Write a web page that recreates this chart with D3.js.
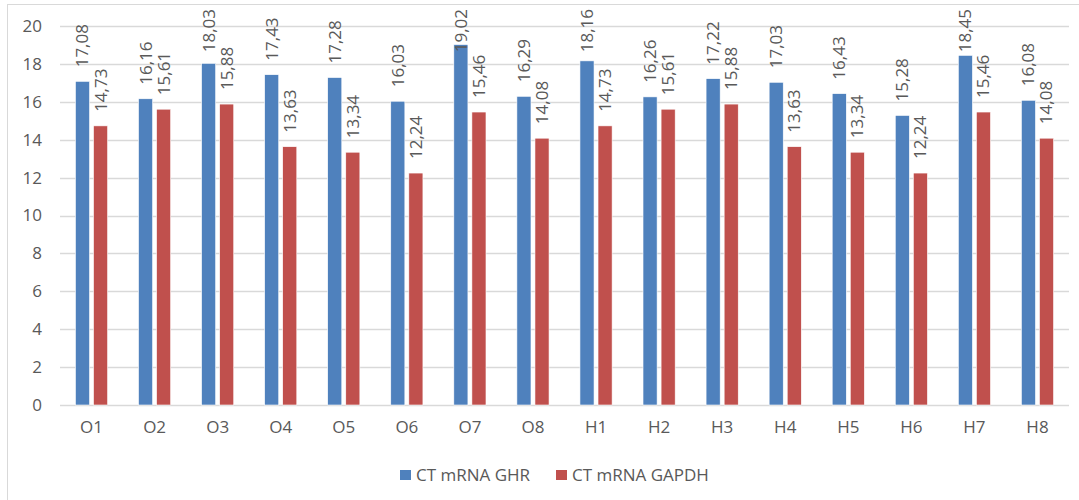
<!DOCTYPE html>
<html>
<head>
<meta charset="utf-8">
<script src="https://cdn.jsdelivr.net/npm/d3@7"></script>
<style>
  body { margin: 0; background: #fff; }
  text { font-family: "Open Sans", sans-serif; fill: #595959; }
</style>
</head>
<body>
<svg id="chart" width="1079" height="500"></svg>
<script>
const categories = ["O1", "O2", "O3", "O4", "O5", "O6", "O7", "O8",
                    "H1", "H2", "H3", "H4", "H5", "H6", "H7", "H8"];
const seriesNames = ["CT mRNA GHR", "CT mRNA GAPDH"];
const ghrValues = [17.08, 16.16, 18.03, 17.43, 17.28, 16.03, 19.02, 16.29,
                   18.16, 16.26, 17.22, 17.03, 16.43, 15.28, 18.45, 16.08];
const gapdhValues = [14.73, 15.61, 15.88, 13.63, 13.34, 12.24, 15.46, 14.08,
                     14.73, 15.61, 15.88, 13.63, 13.34, 12.24, 15.46, 14.08];
const yTicks = [0, 2, 4, 6, 8, 10, 12, 14, 16, 18, 20];
const colors = ["#4F81BD", "#C0504D"];

const svg = d3.select("#chart");

// chart frame (runs off the right and bottom edge)
svg.append("rect")
  .attr("x", 7.5).attr("y", 4.5)
  .attr("width", 1100).attr("height", 520)
  .attr("fill", "none").attr("stroke", "#d9d9d9");

const plot = { left: 60, right: 1069, top: 26, bottom: 405 };

const y = d3.scaleLinear().domain([0, 20]).range([plot.bottom, plot.top]);
const x = d3.scaleBand().domain(categories)
  .range([plot.left, plot.right])
  .paddingInner(0.49).paddingOuter(0.245);
const x1 = d3.scaleBand().domain(seriesNames)
  .range([0, x.bandwidth()]).paddingInner(0.22);

// gridlines
svg.append("g")
  .selectAll("line")
  .data(yTicks)
  .join("line")
  .attr("x1", plot.left).attr("x2", plot.right)
  .attr("y1", d => Math.round(y(d)) + 0.5).attr("y2", d => Math.round(y(d)) + 0.5)
  .attr("stroke", "#d9d9d9").attr("stroke-width", 1.3);

// y axis labels
const yAxis = d3.axisLeft(y).tickValues(yTicks).tickSize(0).tickPadding(18);
svg.append("g")
  .attr("transform", `translate(${plot.left},0)`)
  .call(yAxis)
  .call(g => g.select(".domain").remove())
  .selectAll("text")
  .style("font-size", "17px")
  .attr("fill", "#595959");

// x axis labels
const xAxis = d3.axisBottom(x).tickSize(0).tickPadding(16);
svg.append("g")
  .attr("transform", `translate(0,${plot.bottom})`)
  .call(xAxis)
  .call(g => g.select(".domain").remove())
  .selectAll("text")
  .style("font-size", "17px")
  .attr("fill", "#595959");

const rows = categories.map((c, i) => ({
  cat: c,
  values: [
    { name: seriesNames[0], value: ghrValues[i], color: colors[0] },
    { name: seriesNames[1], value: gapdhValues[i], color: colors[1] }
  ]
}));

const groups = svg.append("g")
  .selectAll("g")
  .data(rows)
  .join("g")
  .attr("transform", d => `translate(${x(d.cat)},0)`);

groups.selectAll("rect")
  .data(d => d.values)
  .join("rect")
  .attr("x", d => x1(d.name))
  .attr("y", d => y(d.value))
  .attr("width", x1.bandwidth())
  .attr("height", d => y(0) - y(d.value))
  .attr("fill", d => d.color)
  .attr("stroke", "#fff").attr("stroke-width", 0.6);

const fmt = v => d3.format(".2f")(v).replace(".", ",");

groups.selectAll("text.val")
  .data(d => d.values)
  .join("text")
  .attr("class", "val")
  .style("font-size", "17px")
  .attr("text-anchor", "start")
  .attr("dy", "0.35em")
  .text(d => fmt(d.value))
  .each(function(d) {
    const len = this.getComputedTextLength();
    let base = y(d.value) - 14;
    if (base - len < 9) base = 9 + len;
    const cx = x1(d.name) + x1.bandwidth() / 2;
    d3.select(this).attr("transform", `translate(${cx},${base}) rotate(-90)`);
  });

// legend
const legend = svg.append("g").attr("transform", "translate(400,470)");
const items = [
  { name: seriesNames[0], color: colors[0], x: 0 },
  { name: seriesNames[1], color: colors[1], x: 156 }
];
const li = legend.selectAll("g").data(items).join("g")
  .attr("transform", d => `translate(${d.x},0)`);
li.append("rect").attr("width", 11).attr("height", 10).attr("fill", d => d.color);
li.append("text")
  .attr("x", 16).attr("y", 5).attr("dy", "0.35em")
  .style("font-size", "17px")
  .text(d => d.name);
</script>
</body>
</html>
